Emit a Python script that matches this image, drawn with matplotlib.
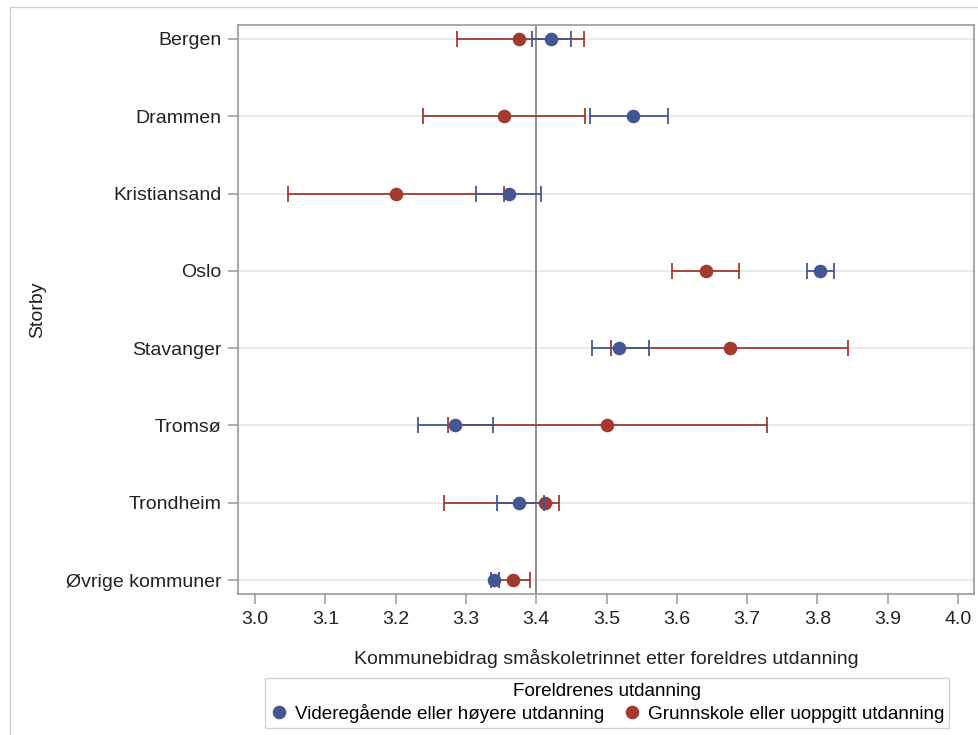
import matplotlib
matplotlib.use("Agg")
import matplotlib.pyplot as plt
from matplotlib.lines import Line2D
from matplotlib.patches import Rectangle
import numpy as np

plt.rcParams['font.family'] = ['Liberation Sans', 'DejaVu Sans']

cities = ["Bergen", "Drammen", "Kristiansand", "Oslo", "Stavanger",
          "Tromsø", "Trondheim", "Øvrige kommuner"]

# Videregående eller høyere utdanning (blue)
vgs_mean = [3.421, 3.538, 3.362, 3.804, 3.518, 3.285, 3.376, 3.340]
vgs_low  = [3.394, 3.477, 3.315, 3.785, 3.479, 3.232, 3.344, 3.336]
vgs_high = [3.450, 3.588, 3.407, 3.824, 3.560, 3.339, 3.411, 3.347]

# Grunnskole eller uoppgitt utdanning (red)
grs_mean = [3.376, 3.354, 3.201, 3.641, 3.676, 3.501, 3.413, 3.367]
grs_low  = [3.287, 3.239, 3.047, 3.593, 3.507, 3.274, 3.269, 3.347]
grs_high = [3.468, 3.470, 3.354, 3.688, 3.844, 3.729, 3.432, 3.391]

xticks = [3.0, 3.1, 3.2, 3.3, 3.4, 3.5, 3.6, 3.7, 3.8, 3.9, 4.0]
ref_value = 3.4

blue = "#445694"
red = "#A23A2E"
axis_gray = "#9a9a9a"
FS = 14
LFS = 13.6

fig = plt.figure(figsize=(9.79, 7.35), dpi=100)
ax = fig.add_axes([238/979, 1-594/735, (974-238)/979, (594-25)/735])

y = np.arange(len(cities))

for i in y:
    ax.axhline(i, color="#e6e6e6", lw=1.2, zorder=0)
ax.axvline(ref_value, color="#8c8c8c", lw=1.4, zorder=1)

def draw(mean, low, high, color, z):
    mean = np.array(mean); low = np.array(low); high = np.array(high)
    ax.errorbar(mean, y, xerr=[mean-low, high-mean], fmt="none",
                ecolor=color, elinewidth=1.3, capsize=5.5, capthick=1.3, zorder=z)
    ax.plot(mean, y, "o", color=color, markersize=9.8, zorder=z+0.5,
            markeredgewidth=0)

draw(grs_mean, grs_low, grs_high, red, 3)
draw(vgs_mean, vgs_low, vgs_high, blue, 4)

ax.set_xlim(3.0 - 17/703, 4.0 + 16/703)
ax.set_ylim(len(cities)-1 + 0.181, -0.181)
ax.set_yticks(y)
ax.set_yticklabels(cities)
ax.set_xticks(xticks)
ax.set_xticklabels([f"{v:.1f}" for v in xticks])

for s in ax.spines.values():
    s.set_color(axis_gray)
    s.set_linewidth(1.2)
ax.tick_params(axis="both", colors=axis_gray, labelcolor="#222222",
               labelsize=FS, length=7, width=1.1)
ax.tick_params(axis="y", pad=5)
ax.tick_params(axis="x", pad=5)

ax.set_xlabel("Kommunebidrag småskoletrinnet etter foreldres utdanning",
              fontsize=FS, color="#222222", labelpad=15)
ax.set_ylabel("Storby", fontsize=FS, color="#222222", labelpad=0)
ax.yaxis.set_label_coords(-(238-46)/736, 0.5)

handles = [
    Line2D([], [], marker="o", ls="none", color=blue, markersize=9.8, markeredgewidth=0,
           label="Videregående eller høyere utdanning"),
    Line2D([], [], marker="o", ls="none", color=red, markersize=9.8, markeredgewidth=0,
           label="Grunnskole eller uoppgitt utdanning"),
]
leg = fig.legend(handles=handles, title="Foreldrenes utdanning", ncol=2,
                 loc="center", bbox_to_anchor=(607/979, 1-703/735),
                 fontsize=LFS, title_fontsize=LFS, frameon=True, fancybox=False,
                 handletextpad=0.35, columnspacing=1.0, borderpad=0.25,
                 handlelength=1.0, labelspacing=0.2)
leg.get_frame().set_edgecolor("#c8c8c8")
leg.get_frame().set_linewidth(1.0)

fig.patches.append(Rectangle((10/979, -0.05), 1.0, 1.05 - 7/735,
                             transform=fig.transFigure, fill=False,
                             edgecolor="#cfcfcf", lw=1.0))

fig.savefig("out.png", dpi=100)
